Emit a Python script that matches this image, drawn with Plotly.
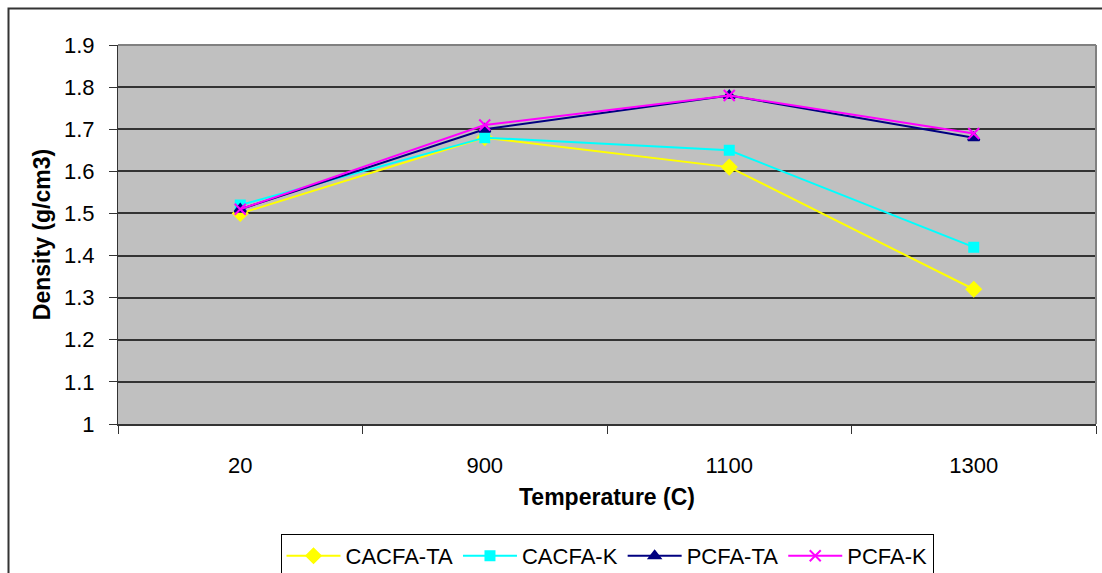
import plotly.graph_objects as go

temperatures = ["20", "900", "1100", "1300"]
cacfa_ta = [1.50, 1.68, 1.61, 1.32]
cacfa_k = [1.52, 1.68, 1.65, 1.42]
pcfa_ta = [1.51, 1.70, 1.78, 1.68]
pcfa_k = [1.51, 1.71, 1.78, 1.69]

W, H = 1102, 573
L, R, T, B = 118, 6, 45, 149
plot_w = W - L - R
plot_h = H - T - B

series = [
    ("CACFA-TA", cacfa_ta, "#FFFF00", "diamond", 11),
    ("CACFA-K", cacfa_k, "#00FFFF", "square", 9),
    ("PCFA-TA", pcfa_ta, "#000080", "triangle-up", 10),
    ("PCFA-K", pcfa_k, "#FF00FF", "x-thin", 11),
]

fig = go.Figure()
for name, vals, color, sym, size in series:
    fig.add_trace(go.Scatter(
        x=temperatures, y=vals, name=name, mode="lines+markers",
        line=dict(color=color, width=2),
        marker=dict(symbol=sym, size=size, color=color,
                    line=dict(color=color, width=2)),
    ))

font = "Liberation Sans, Arial, sans-serif"

def px_x(p):
    return (p - L) / plot_w

def px_y(p):
    return 1 - (p - T) / plot_h

fig.update_layout(
    width=W, height=H,
    margin=dict(l=L, r=R, t=T, b=B, autoexpand=False),
    paper_bgcolor="white",
    plot_bgcolor="#C0C0C0",
    font=dict(family=font, size=22, color="black"),
    showlegend=True,
    legend=dict(
        orientation="h", x=0.5, xanchor="center",
        y=px_y(534), yanchor="top",
        bordercolor="black", borderwidth=1, bgcolor="white",
        font=dict(size=22, family=font),
        itemwidth=54, tracegroupgap=0,
    ),
    xaxis=dict(
        type="category", range=[-0.5, 3.5],
        tickson="boundaries", ticks="outside", ticklen=8,
        tickcolor="#333333", tickwidth=1,
        showline=True, linecolor="#333333", linewidth=2,
        showgrid=False, zeroline=False,
        ticklabelstandoff=21,
        tickfont=dict(size=22),
        title=dict(text="<b>Temperature (C)</b>", font=dict(size=23), standoff=11),
        automargin=False,
    ),
    yaxis=dict(
        range=[1.0, 1.9], dtick=0.1, tick0=1.0,
        ticks="outside", ticklen=8, tickcolor="#333333",
        showline=True, linecolor="#333333", linewidth=1,
        showgrid=True, gridcolor="#333333", gridwidth=1.5,
        zeroline=False,
        tickfont=dict(size=22),
        ticklabelstandoff=10,
        tickformat="~g",
        title=dict(text="<b>Density (g/cm3)</b>", font=dict(size=23), standoff=6),
        automargin=False,
    ),
    shapes=[
        # plot-area frame on the top and right
        dict(type="line", xref="paper", yref="paper", x0=0, x1=1, y0=1, y1=1,
             line=dict(color="#808080", width=2), layer="above"),
        dict(type="line", xref="paper", yref="paper", x0=1, x1=1, y0=0, y1=1,
             line=dict(color="#808080", width=2), layer="above"),
        # outer chart border
        dict(type="rect", xref="paper", yref="paper",
             x0=px_x(8.5), x1=px_x(1110), y0=px_y(8.5), y1=px_y(590),
             line=dict(color="#333333", width=2), fillcolor="rgba(0,0,0,0)",
             layer="below"),
    ],
)

fig.write_html("out.html")
